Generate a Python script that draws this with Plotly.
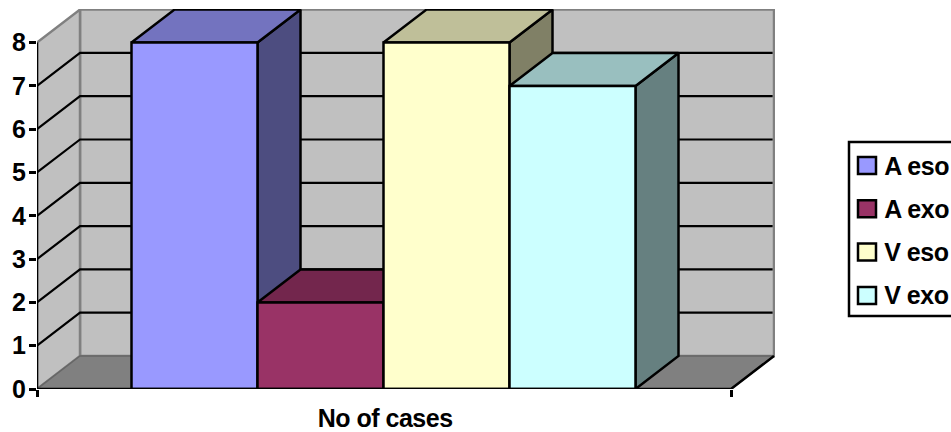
import plotly.graph_objects as go

# Chart data
series_names = ["A eso", "A exo", "V eso", "V exo"]
case_counts = [8, 2, 8, 7]
category_label = "No of cases"
y_ticks = [0, 1, 2, 3, 4, 5, 6, 7, 8]

# Face colours per series: front, top, side
front_colors = ["#9999FF", "#993366", "#FFFFCC", "#CCFFFF"]
top_colors = ["#7373BF", "#73264D", "#BFBF99", "#99BFBF"]
side_colors = ["#4D4D80", "#4D1A33", "#808066", "#668080"]

# Page geometry in pixels
W, H = 951, 432
LEFT, RIGHT, TOP, BOTTOM = 37, 775, 9, 389
AXIS_WIDTH = 694
UNIT_HEIGHT = 43.3
DEPTH_X = 43 / AXIS_WIDTH     # oblique depth offset in x-axis units
DEPTH_Y = 33 / UNIT_HEIGHT    # oblique depth offset in y-axis units
BAR_START = 94.5 / AXIS_WIDTH
BAR_WIDTH = 126 / AXIS_WIDTH
Y_MAX = 8

x_range = [0, (RIGHT - LEFT) / AXIS_WIDTH]
y_range = [0, (BOTTOM - TOP) / UNIT_HEIGHT]

FONT = "Liberation Sans"
TEXT_SIZE = 25
fig = go.Figure()


def poly(xs, ys, fill=None, line="#000000", width=2.5):
    """Closed filled polygon in axis units, or an open polyline if fill is None."""
    if fill:
        xs = list(xs) + [xs[0]]
        ys = list(ys) + [ys[0]]
    fig.add_trace(go.Scatter(
        x=xs, y=ys, mode="lines",
        fill="toself" if fill else None,
        fillcolor=fill,
        line=dict(color=line, width=width),
        hoverinfo="skip", showlegend=False, cliponaxis=False,
    ))


# Walls and floor
poly([DEPTH_X, 1 + DEPTH_X, 1 + DEPTH_X, DEPTH_X],
     [DEPTH_Y, DEPTH_Y, Y_MAX + DEPTH_Y, Y_MAX + DEPTH_Y],
     fill="#C0C0C0", line="#808080", width=2.5)
poly([0, DEPTH_X, DEPTH_X, 0],
     [0, DEPTH_Y, Y_MAX + DEPTH_Y, Y_MAX],
     fill="#C0C0C0", line="#808080", width=2.5)
poly([0, 1, 1 + DEPTH_X, DEPTH_X],
     [0, 0, DEPTH_Y, DEPTH_Y],
     fill="#808080", line="#666666", width=1.5)

# Gridlines on the side wall and the back wall
grid_x, grid_y = [], []
for v in y_ticks[1:-1]:
    grid_x += [0, DEPTH_X, 1 + DEPTH_X - 0.002, None]
    grid_y += [v, v + DEPTH_Y, v + DEPTH_Y, None]
poly(grid_x, grid_y, width=2.2)

# Bars, drawn left to right so each one overlaps its neighbour's side face
for i, value in enumerate(case_counts):
    x0 = BAR_START + i * BAR_WIDTH
    x1 = x0 + BAR_WIDTH
    poly([x1, x1 + DEPTH_X, x1 + DEPTH_X, x1],
         [0, DEPTH_Y, value + DEPTH_Y, value], fill=side_colors[i])
    poly([x0, x1, x1 + DEPTH_X, x0 + DEPTH_X],
         [value, value, value + DEPTH_Y, value + DEPTH_Y], fill=top_colors[i])
    poly([x0, x1, x1, x0], [0, 0, value, value], fill=front_colors[i])

# Axis lines and the right edge of the floor
poly([0, 0], [0, Y_MAX], width=2.5)
poly([0, 1, 1 + DEPTH_X], [0, 0, DEPTH_Y], width=2.5)


def px(x):
    return (x - LEFT) / (RIGHT - LEFT)


def py(y):
    return (BOTTOM - y) / (BOTTOM - TOP)


bold_text = dict(family=FONT, size=TEXT_SIZE, color="#000000", weight="bold")

# Legend panel
shapes = [dict(type="rect", xref="paper", yref="paper",
               x0=px(849), x1=px(975), y0=py(316), y1=py(142),
               line=dict(color="#000000", width=2.5), fillcolor="#FFFFFF")]
annotations = []
for i, name in enumerate(series_names):
    cy = 165.5 + i * 43.3
    shapes.append(dict(type="rect", xref="paper", yref="paper",
                       x0=px(858), x1=px(876), y0=py(cy + 8.5), y1=py(cy - 8.5),
                       line=dict(color="#000000", width=2.5),
                       fillcolor=front_colors[i]))
    annotations.append(dict(text=name, xref="paper", yref="paper",
                            x=px(881), y=py(cy), xanchor="left", yanchor="middle",
                            showarrow=False, font=bold_text))

# Category label under the axis
annotations.append(dict(text=category_label, xref="x", yref="paper",
                        x=0.5015, y=py(418), xanchor="center", yanchor="middle",
                        showarrow=False, font=bold_text))

fig.update_layout(
    width=W, height=H,
    margin=dict(l=LEFT, r=W - RIGHT, t=TOP, b=H - BOTTOM, pad=0),
    paper_bgcolor="#FFFFFF", plot_bgcolor="#FFFFFF",
    showlegend=False, shapes=shapes, annotations=annotations,
    xaxis=dict(range=x_range, tickvals=[0, 1], ticktext=["", ""], ticks="outside",
               ticklen=7, tickwidth=2.5, tickcolor="#000000",
               showgrid=False, zeroline=False, showline=False, fixedrange=True),
    yaxis=dict(range=y_range, tickvals=y_ticks, ticks="outside",
               ticklen=7, tickwidth=2.5, tickcolor="#000000",
               showgrid=False, zeroline=False, showline=False, fixedrange=True,
               tickfont=bold_text, ticklabelstandoff=-2),
)

# Tighten the tracking of the bold labels
tighten = ("document.querySelectorAll('.annotation-text')"
           ".forEach(function(t){t.style.letterSpacing='-0.5px';});")
fig.write_html("out.html", config={"displayModeBar": False}, post_script=tighten)
